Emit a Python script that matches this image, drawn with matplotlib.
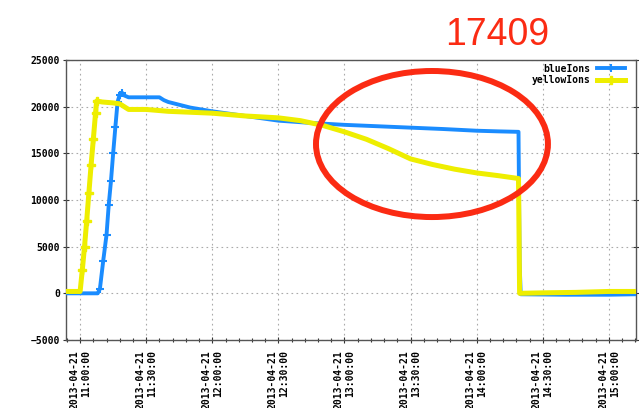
from __future__ import annotations

import matplotlib

matplotlib.use("Agg")

import matplotlib.dates as mdates
import matplotlib.pyplot as plt
import pandas as pd
from matplotlib.patches import Ellipse

DAY = "2013-04-21"

BLUE_TIMES = [
    "10:54", "11:00", "11:05", "11:08", "11:09", "11:10:30", "11:12", "11:13",
    "11:14", "11:15", "11:16", "11:17", "11:18", "11:19", "11:20", "11:22",
    "11:30", "11:36", "11:38", "11:40", "11:45", "11:50", "12:00", "12:15",
    "12:30", "12:45", "13:00", "13:15", "13:30", "13:45", "14:00", "14:10",
    "14:19", "14:19:30", "14:20", "14:40", "15:00", "15:12",
]
BLUE_VALUES = [
    0, 0, 0, 0, 500, 3500, 6300, 9500,
    12000, 15000, 17800, 20500, 21300, 21500, 21200, 21000,
    21000, 21000, 20700, 20500, 20200, 19900, 19500, 19000,
    18500, 18250, 18050, 17900, 17750, 17600, 17420, 17350,
    17300, 3300, -100, -150, -150, -100,
]

YELLOW_TIMES = [
    "10:54", "11:00", "11:01", "11:02", "11:03", "11:04", "11:05", "11:06",
    "11:07", "11:07:30", "11:10", "11:15", "11:18", "11:20", "11:22", "11:30",
    "11:40", "12:00", "12:15", "12:30", "12:40", "12:50", "13:00", "13:10",
    "13:20", "13:30", "13:40", "13:50", "14:00", "14:10", "14:19", "14:19:30",
    "14:30", "14:45", "15:00", "15:12",
]
YELLOW_VALUES = [
    200, 200, 2500, 5000, 7800, 10800, 13800, 16500,
    19300, 20600, 20500, 20400, 20300, 20000, 19700, 19700,
    19500, 19300, 19000, 18800, 18500, 18000, 17300, 16500,
    15500, 14400, 13800, 13300, 12900, 12600, 12300, 0,
    50, 100, 200, 200,
]

Y_TICKS = [-5000, 0, 5000, 10000, 15000, 20000, 25000]
ANNOTATION = "17409"

TICK_FONT = {"family": "DejaVu Sans Mono", "weight": "bold", "size": 7}


def to_times(times: list[str]) -> pd.DatetimeIndex:
    return pd.to_datetime([f"{DAY} {t}" for t in times], format="mixed")


def main() -> None:
    fig = plt.figure(figsize=(6.39, 4.08), dpi=100)
    ax = fig.add_axes([0.1033, 0.1667, 0.892, 0.6863])

    # markers only show up on the ramps, the flat parts are too dense to see them
    ax.plot(
        to_times(BLUE_TIMES),
        BLUE_VALUES,
        color="#1a8cff",
        linewidth=2.8,
        marker="+",
        markersize=6,
        markeredgewidth=1.5,
        markevery=slice(4, 14),
        label="blueIons",
        zorder=3,
    )
    ax.plot(
        to_times(YELLOW_TIMES),
        YELLOW_VALUES,
        color="#eeee00",
        linewidth=3.6,
        marker="P",
        markersize=6,
        markevery=slice(2, 10),
        label="yellowIons",
        zorder=4,
    )

    ax.set_xlim(pd.Timestamp(f"{DAY} 10:53:36"), pd.Timestamp(f"{DAY} 15:12:20"))
    ax.set_ylim(-5000, 25000)
    ax.set_yticks(Y_TICKS)

    ax.xaxis.set_major_locator(mdates.MinuteLocator(byminute=[0, 30]))
    ax.xaxis.set_minor_locator(mdates.MinuteLocator(byminute=range(0, 60, 6)))
    ax.xaxis.set_major_formatter(mdates.DateFormatter("%Y-%m-%d\n%H:%M:%S"))

    for label in ax.get_xticklabels():
        label.set_rotation(90)
        label.set_ha("center")
        label.set_multialignment("right")
        label.set_fontproperties(TICK_FONT)
    for label in ax.get_yticklabels():
        label.set_fontproperties(TICK_FONT)

    ax.tick_params(axis="both", which="major", direction="inout", length=5,
                   width=0.8, colors="#333333", pad=2, right=True)
    ax.tick_params(axis="x", which="major", pad=5)
    ax.tick_params(axis="x", which="minor", direction="inout", length=3,
                   width=0.8, colors="#333333")
    ax.tick_params(labelcolor="black")

    ax.grid(True, which="major", linestyle=(0, (1.5, 3)), color="#aaaaaa",
            linewidth=0.8)
    for spine in ax.spines.values():
        spine.set_color("#555555")
        spine.set_linewidth(1.0)

    legend = ax.legend(
        loc="upper right",
        bbox_to_anchor=(0.987, 1.0),
        frameon=False,
        markerfirst=False,
        prop=TICK_FONT,
        handlelength=2.9,
        borderaxespad=0.0,
        labelspacing=0.15,
        handletextpad=0.6,
    )
    legend.set_zorder(5)

    fig.patches.append(
        Ellipse(
            (0.676, 0.647),
            0.363,
            0.358,
            transform=fig.transFigure,
            fill=False,
            edgecolor="#fb2b13",
            linewidth=4.3,
            zorder=10,
        )
    )
    fig.text(0.778, 0.89, ANNOTATION, color="#fb2b13", fontsize=27,
             family="Liberation Sans", ha="center", va="baseline")

    fig.savefig("out.png", dpi=100)
    plt.close(fig)


if __name__ == "__main__":
    main()
